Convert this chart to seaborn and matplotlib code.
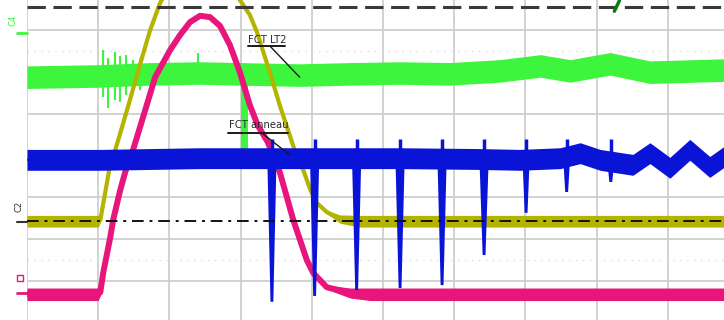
import numpy as np
import pandas as pd
import matplotlib
matplotlib.use("Agg")
import matplotlib.pyplot as plt
import seaborn as sns

# ---------------- data (time and amplitude in screen divisions) ----------------
# CH2 (yellow)
ch2_t = [0, 1.0, 1.03, 1.08, 1.18, 1.24, 1.31, 1.45, 1.59, 1.73, 1.87, 2.01, 2.22, 2.43,
         2.64, 2.82, 2.99, 3.13, 3.23, 3.41, 3.55, 3.75, 3.88, 3.98, 4.07, 4.21, 4.40, 4.68, 9.8]
ch2_v = [-0.58, -0.58, -0.55, -0.07, 0.89, 1.13, 1.53, 2.35, 3.19, 4.0, 4.65, 5.08, 5.56, 5.73,
         5.56, 5.15, 4.72, 4.36, 3.95, 2.99, 2.20, 1.17, 0.65, 0.17, -0.14, -0.36, -0.53, -0.58, -0.58]
ch2_noise = [0.14, 0.14, 0.06] + [0.04] * 23 + [0.10, 0.14, 0.14]

# CH1 (magenta)
ch1_t = [0, 1.0, 1.03, 1.07, 1.17, 1.21, 1.31, 1.38, 1.49, 1.66, 1.80, 2.01, 2.15, 2.29, 2.43,
         2.57, 2.71, 2.85, 2.99, 3.13, 3.24, 3.38, 3.55, 3.74, 3.93, 4.02, 4.21, 4.54, 4.82, 9.8]
ch1_v = [-2.33, -2.33, -2.28, -1.82, -0.96, -0.55, 0.17, 0.60, 1.13, 2.08, 2.87, 3.52, 3.88, 4.19,
         4.34, 4.31, 4.10, 3.64, 2.99, 2.20, 1.72, 1.32, 0.60, -0.55, -1.51, -1.82, -2.16, -2.30, -2.33, -2.33]
ch1_noise = [0.15, 0.15, 0.08] + [0.05] * 24 + [0.12, 0.15, 0.15]

# CH4 (green)
ch4_t = [0, 1.03, 1.73, 2.43, 2.99, 3.83, 4.54, 5.24, 5.94, 6.64, 7.21, 7.63, 8.19, 8.75, 9.79]
ch4_v = [2.87, 2.90, 2.95, 2.97, 2.95, 2.92, 2.95, 2.97, 2.95, 3.02, 3.14, 3.02, 3.19, 2.99, 3.04]
ch4_noise = 0.27
ch4_burst_t = [1.07, 1.14, 1.24, 1.31, 1.39, 1.49, 1.59, 2.40]
ch4_burst_top = [3.52, 3.33, 3.47, 3.38, 3.40, 3.28, 3.23, 3.45]
ch4_burst_bot = [2.40, 2.13, 2.32, 2.28, 2.44, 2.51, 2.56, 2.70]
ch4_dip_t = 3.05
ch4_dip_v = 1.08

# CH3 (blue)
ch3_t = [0, 1.03, 2.43, 3.83, 5.24, 6.36, 6.92, 7.49, 7.77, 8.05, 8.51, 8.75, 9.03, 9.31, 9.59, 9.79]
ch3_v = [0.89, 0.89, 0.93, 0.93, 0.93, 0.91, 0.89, 0.93, 1.05, 0.89, 0.77, 1.05, 0.70, 1.13, 0.72, 0.96]
ch3_noise = 0.25
ch3_spike_t = [3.44, 4.04, 4.63, 5.24, 5.83, 6.42, 7.01, 7.58, 8.20]
ch3_spike_v = [-2.51, -2.37, -2.23, -2.18, -2.11, -1.39, -0.38, 0.12, 0.36]
ch3_spike_up = 1.38

# reference levels / markers
top_level = 4.55
trig_level = -0.575
trig_mark_t = [8.25, 8.32]
trig_mark_v = [4.45, 4.70]

labels = ["FCT LT2", "FCT anneau"]
label_xy = [(3.10, 3.69), (2.84, 1.65)]
label_underline = [(3.10, 3.62, 3.62), (2.82, 3.67, 1.53)]
label_leader = [((3.41, 3.62), (3.83, 2.87)), ((3.30, 1.53), (3.69, 1.01))]

C_YEL = "#b3b300"
C_PINK = "#e8157c"
C_GREEN = "#3cf53c"
C_BLUE = "#0a14d6"

sns.set_theme(style="white")
plt.rcParams['font.family'] = ['DejaVu Sans']

fig = plt.figure(figsize=(7.24, 3.2), dpi=100)
ax = fig.add_axes([27 / 724, 0, 1 - 27 / 724, 1])
ax.set_xlim(0, 9.79)
ax.set_ylim(-2.946, 4.719)
for s in ax.spines.values():
    s.set_visible(False)
ax.set_xticks([])
ax.set_yticks([])

# graticule
for k in range(0, 10):
    ax.axvline(k, color="#cfcfcf", lw=1.3, zorder=0)
for v in [4, 2, 0, -1, -2]:
    ax.axhline(v, color="#cfcfcf", lw=1.3, zorder=0)
for v in [3.5, -1.5]:
    ax.axhline(v, color="#ead6dc", lw=1.0, ls=(0, (1, 4)), zorder=0)

# CH4 green
ax.fill_between(ch4_t, np.array(ch4_v) - ch4_noise, np.array(ch4_v) + ch4_noise,
                color=C_GREEN, lw=0, zorder=1)
ax.vlines(ch4_burst_t, ch4_burst_bot, ch4_burst_top, color=C_GREEN, lw=1.5, zorder=1)
base4 = np.interp(ch4_dip_t, ch4_t, ch4_v)
ax.vlines([ch4_dip_t], [ch4_dip_v], [base4], color=C_GREEN, lw=5, zorder=1)

# CH2 yellow
df2 = pd.DataFrame({"t": ch2_t, "v": ch2_v})
ax.fill_between(ch2_t, np.array(ch2_v) - np.array(ch2_noise), np.array(ch2_v) + np.array(ch2_noise),
                color=C_YEL, lw=0, zorder=2)
sns.lineplot(data=df2, x="t", y="v", ax=ax, color=C_YEL, lw=3, estimator=None, sort=False, zorder=2)

# CH1 magenta
df1 = pd.DataFrame({"t": ch1_t, "v": ch1_v})
ax.fill_between(ch1_t, np.array(ch1_v) - np.array(ch1_noise), np.array(ch1_v) + np.array(ch1_noise),
                color=C_PINK, lw=0, zorder=2)
sns.lineplot(data=df1, x="t", y="v", ax=ax, color=C_PINK, lw=4.3, estimator=None, sort=False, zorder=2)

# CH3 blue
df3 = pd.DataFrame({"t": ch3_t, "v": ch3_v})
ax.fill_between(ch3_t, np.array(ch3_v) - ch3_noise, np.array(ch3_v) + ch3_noise,
                color=C_BLUE, lw=0, zorder=3)
sns.lineplot(data=df3, x="t", y="v", ax=ax, color=C_BLUE, lw=1.5, estimator=None, sort=False, zorder=3)
for t, tip in zip(ch3_spike_t, ch3_spike_v):
    b = np.interp(t, ch3_t, ch3_v)
    w = 0.065 if tip < -1 else 0.05
    ax.fill([t - w, t + w, t + 0.02, t - 0.02], [b, b, tip, tip], color=C_BLUE, lw=0, zorder=3)
    ax.vlines([t], [b], [ch3_spike_up], color=C_BLUE, lw=2.5, zorder=3)

# reference lines
ax.axhline(top_level, color="#3a3a3a", lw=2.2, ls=(0, (6, 2.5)), zorder=4)
ax.axhline(trig_level, color="#111111", lw=1.4, ls=(0, (6, 3, 1.5, 3)), zorder=4)
ax.plot(trig_mark_t, trig_mark_v, color="#0b7a12", lw=2.5, solid_capstyle="round", zorder=5)

# annotations
for txt, (x, y), (ux0, ux1, uy), (p0, p1) in zip(labels, label_xy, label_underline, label_leader):
    ax.text(x, y, txt, fontsize=8, fontstretch="condensed", color="#2a2a2a", ha="left",
            va="baseline", zorder=6)
    ax.plot([ux0, ux1], [uy, uy], color="#1a1a1a", lw=1.4, zorder=6)
    ax.plot([p0[0], p1[0]], [p0[1], p1[1]], color="#1a1a1a", lw=1.0, zorder=6)

# channel markers on the left
ax.plot([-0.14, 0], [3.93, 3.93], color=C_GREEN, lw=2, clip_on=False)
ax.plot([-0.14, 0], [-0.60, -0.60], color="#333333", lw=1.5, clip_on=False)
ax.plot([-0.14, 0], [-2.30, -2.30], color=C_PINK, lw=2, clip_on=False)
ax.plot([-0.1], [-1.94], marker="s", ms=5, mfc="none", mec=C_PINK, mew=1, clip_on=False)
fig.text(13 / 724, 1 - 20 / 320, "C4", color=C_GREEN, fontsize=6, rotation=90, ha="center", va="center")
fig.text(19 / 724, 1 - 206 / 320, "C2", color="#333333", fontsize=6, rotation=90, ha="center", va="center")
ax.set_xlabel("")
ax.set_ylabel("")

fig.savefig("out.png", dpi=100)
